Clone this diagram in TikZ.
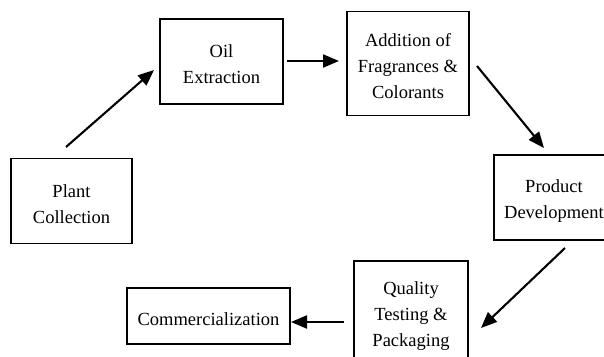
\documentclass[tikz,border=0pt]{standalone}
\usepackage{fontspec}
\setmainfont{Liberation Serif}
\usetikzlibrary{arrows.meta}
\newcommand\topstrut{\rule{0pt}{19pt}}
\begin{document}
\begin{tikzpicture}[x=1pt,y=-1pt,
  box/.style={draw,line width=1.3pt,inner sep=0pt,align=center,
    font=\fontsize{18.5}{26}\selectfont,minimum width=#1},
  arr/.style={line width=2.1pt,-{Triangle[length=16pt,width=13pt]}}]
\useasboundingbox (0,0) rectangle (604,356);
\begin{scope}
\clip (0,0) rectangle (604,356);
\node[box=121pt,minimum height=85pt] (plant) at (71.5,201) {\topstrut Plant\\Collection};
\node[box=123pt,minimum height=85pt] (oil) at (221.5,61.5) {\topstrut Oil\\Extraction};
\node[box=122pt,minimum height=104pt] (add) at (408,63.5) {\topstrut Addition of\\Fragrances \&\\Colorants};
\node[box=120pt,minimum height=85pt] (prod) at (554,197.5) {\topstrut Product\\Development};
\node[box=114pt,minimum height=104pt] (qual) at (411,313) {\topstrut Quality\\Testing \&\\Packaging};
\node[box=163pt,minimum height=56pt] (comm) at (208.5,316) {\topstrut Commercialization};
\end{scope}
\coordinate (a1s) at (66,147);   \coordinate (a1e) at (154,70);
\coordinate (a2s) at (287,61);   \coordinate (a2e) at (339,61);
\coordinate (a3s) at (477,66);   \coordinate (a3e) at (544,148);
\coordinate (a4s) at (565,248);  \coordinate (a4e) at (481,328);
\coordinate (a5s) at (344,322);  \coordinate (a5e) at (291,322);
\draw[arr] (a1s) -- (a1e);
\draw[arr] (a2s) -- (a2e);
\draw[arr] (a3s) -- (a3e);
\draw[arr] (a4s) -- (a4e);
\draw[arr] (a5s) -- (a5e);
\end{tikzpicture}
\end{document}
